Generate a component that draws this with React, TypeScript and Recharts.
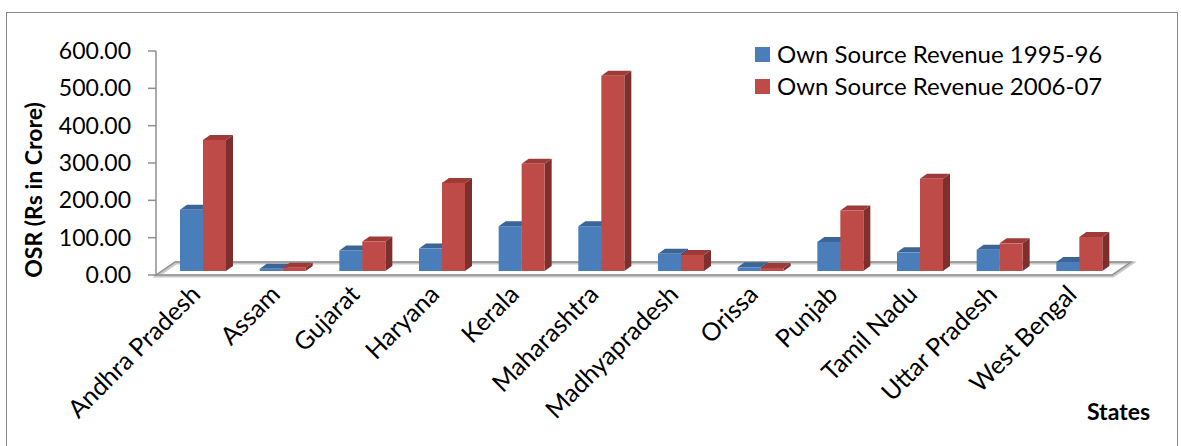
import React from 'react';
import { BarChart, Bar, XAxis, YAxis, Legend } from 'recharts';

const states = [
  'Andhra Pradesh', 'Assam', 'Gujarat', 'Haryana', 'Kerala', 'Maharashtra',
  'Madhyapradesh', 'Orissa', 'Punjab', 'Tamil Nadu', 'Uttar Pradesh', 'West Bengal',
];
const osr1995 = [164, 6, 55, 60, 120, 120, 46, 10, 78, 50, 57, 24];
const osr2006 = [351, 9, 79, 236, 287, 523, 43, 8, 162, 247, 74, 91];
const yTicks = [0, 100, 200, 300, 400, 500, 600];
const seriesNames = ['Own Source Revenue 1995-96', 'Own Source Revenue 2006-07'];

const data = states.map((s, i) => ({ state: s, a: osr1995[i], b: osr2006[i] }));

const W = 1181;
const H = 446;
const M_TOP = 51;
const M_RIGHT = 69;
const Y_W = 100;
const M_LEFT = 56;
const X_H = 150;
const M_BOTTOM = 21;
const PL = M_LEFT + Y_W;
const PR = W - M_RIGHT;
const PB = H - M_BOTTOM - X_H;
const FDX = 19, FDY = -13; // floor depth
const BDX = 7, BDY = -5; // bar depth
const SX = 7, SY = -4; // bar shift into depth

const FONT = 'Lato, "Open Sans", "DejaVu Sans", sans-serif';

const colors = {
  a: { front: '#4A7EBB', top: '#3A6596', side: '#2E4F78' },
  b: { front: '#BE4B48', top: '#9E3B38', side: '#7E2F2D' },
};

const make3D = (c: { front: string; top: string; side: string }) => (props: any) => {
  const { x, y, width, height } = props;
  if (x == null || y == null) return null;
  const fx = x + SX;
  const fy = y + SY;
  const w = width;
  const h = Math.max(height, 0);
  const top = `M${fx},${fy} L${fx + BDX},${fy + BDY} L${fx + w + BDX},${fy + BDY} L${fx + w},${fy} Z`;
  const side = `M${fx + w},${fy} L${fx + w + BDX},${fy + BDY} L${fx + w + BDX},${fy + h + BDY} L${fx + w},${fy + h} Z`;
  return (
    <g>
      <path d={side} fill={c.side} />
      <path d={top} fill={c.top} />
      <rect x={fx} y={fy} width={w} height={h} fill={c.front} />
    </g>
  );
};

const XTick = (props: any) => {
  const { x, y, payload } = props;
  const tx = x + 6;
  const ty = y + 21;
  return (
    <text x={tx} y={ty} transform={`rotate(-45 ${tx} ${ty})`} textAnchor="end"
      fontFamily={FONT} fontSize={25} fill="#000">{payload.value}</text>
  );
};

const LegendContent = () => (
  <div style={{ fontFamily: FONT, fontSize: 24, color: '#000', lineHeight: '32px' }}>
    {seriesNames.map((n, i) => (
      <div key={n} style={{ display: 'flex', alignItems: 'center', whiteSpace: 'nowrap' }}>
        <span style={{ display: 'inline-block', width: 15, height: 15, background: i === 0 ? colors.a.front : colors.b.front, marginRight: 7 }} />
        <span>{n}</span>
      </div>
    ))}
  </div>
);

export default function App() {
  const floor = `M${PL},${PB} L${PL + FDX},${PB + FDY} L${PR + FDX},${PB + FDY} L${PR},${PB} Z`;
  return (
    <div style={{ position: 'absolute', left: 0, top: 0, width: W, height: H, background: '#fff', overflow: 'hidden' }}>
      <div style={{ position: 'absolute', left: 6, top: 12, width: 1172, height: 460, border: '1.5px solid #8a8a8a', boxSizing: 'border-box' }} />
      <svg width={W} height={H} style={{ position: 'absolute', left: 0, top: 0 }}>
        <path d={floor} fill="none" stroke="#c8c8c8" strokeWidth={3} transform="translate(1,1)" />
        <path d={floor} fill="none" stroke="#8f8f8f" strokeWidth={1.5} />
      </svg>
      <div style={{ position: 'absolute', left: 0, top: 0 }}>
        <BarChart width={W} height={H} data={data} barGap={0} barSize={23}
          margin={{ top: M_TOP, right: M_RIGHT, bottom: M_BOTTOM, left: M_LEFT }}>
          <XAxis dataKey="state" height={X_H} axisLine={false} tickLine={false} tickSize={0} tickMargin={0}
            interval={0} tick={<XTick />}
            label={(p: any) => {
              const vb = p.viewBox;
              return (
                <text x={vb.x + vb.width - 25} y={vb.y + 145} fontFamily={FONT} fontWeight={700} fontSize={23} fill="#000">States</text>
              );
            }} />
          <YAxis width={Y_W} domain={[0, 600]} ticks={yTicks} interval={0}
            tickFormatter={(v: number) => v.toFixed(2)}
            tick={{ fontFamily: FONT, fontSize: 23, fill: '#000' }}
            axisLine={{ stroke: '#8f8f8f', strokeWidth: 1.5 }}
            tickLine={{ stroke: '#8f8f8f', strokeWidth: 1.5 }} tickSize={8} tickMargin={17}
            label={(p: any) => {
              const vb = p.viewBox;
              const cx = vb.x - 23;
              const cy = vb.y + vb.height / 2 + 27;
              return (
                <text x={cx} y={cy} transform={`rotate(-90 ${cx} ${cy})`} textAnchor="middle" dominantBaseline="central"
                  fontFamily={FONT} fontWeight={700} fontSize={23} fill="#000">OSR (Rs in Crore)</text>
              );
            }} />
          <Legend layout="vertical" align="center" verticalAlign="middle" content={<LegendContent />}
            wrapperStyle={{ left: 755, top: 38, width: 'auto' }} />
          <Bar dataKey="a" name={seriesNames[0]} fill={colors.a.front} shape={make3D(colors.a)} isAnimationActive={false} />
          <Bar dataKey="b" name={seriesNames[1]} fill={colors.b.front} shape={make3D(colors.b)} isAnimationActive={false} />
        </BarChart>
      </div>
    </div>
  );
}
